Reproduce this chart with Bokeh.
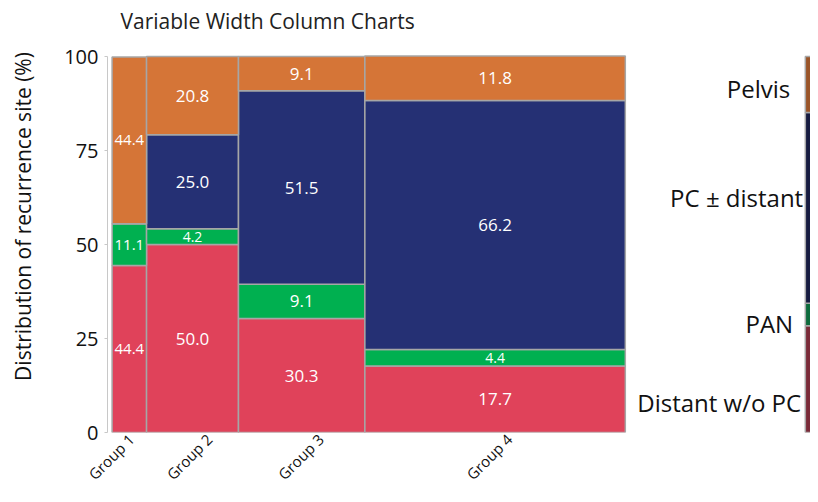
import numpy as np
from math import pi
from bokeh.plotting import figure
from bokeh.models import Range1d, FixedTicker, ColumnDataSource
from bokeh.core.properties import value
from bokeh.embed import file_html
from bokeh.resources import INLINE

# ---------------- data ----------------
groups = ["Group 1", "Group 2", "Group 3", "Group 4"]
group_n = [9, 24, 33, 68]                      # relative column widths
categories = ["Distant w/o PC", "PAN", "PC \u00b1 distant", "Pelvis"]  # bottom -> top
distant = [44.4, 50.0, 30.3, 17.7]
pan = [11.1, 4.2, 9.1, 4.4]
pc = [0.0, 25.0, 51.5, 66.2]
pelvis = [44.4, 20.8, 9.1, 11.8]
overall = [28.4, 6.0, 50.7, 14.9]              # thin cropped column at the right edge
y_ticks = [0, 25, 50, 75, 100]
title_text = "Variable Width Column Charts"

colors = ["#E0425A", "#00B050", "#253074", "#D57537"]
edge_colors = ["#7A2A38", "#0C6B3C", "#161B40", "#9A5428"]

# ---------------- layout constants ----------------
W, H = 810, 494
FL = 107                   # frame left (px)
FB = 62                    # space below the frame (px)
PXU = 3.83                 # px per column unit
PYU = 3.76                 # px per percent
X0 = -1.2
X1 = X0 + (W - FL) / PXU
Y1 = 100 + 56 / PYU        # frame reaches the top of the canvas (title inside)
THIN_X = 181.0
LABEL_X = 180.7
label_y = [8.0, 29.0, 62.5, 91.5]
label_dx = [-3, -11, -1, -14]
group_label_dx = [2, 17, 19, 14]
TITLE_X = X0 + 13 / PXU
TITLE_Y = 100 + 36 / PYU
FONT = "Open Sans"

p = figure(width=W, height=H, output_backend="svg", toolbar_location=None,
           x_range=Range1d(X0, X1), y_range=Range1d(0, Y1),
           min_border_left=FL, min_border_right=0, min_border_top=0,
           min_border_bottom=FB)
p.outline_line_color = None
p.background_fill_color = "white"
p.border_fill_color = "white"
p.grid.visible = False

# title
p.text(x=[TITLE_X], y=[TITLE_Y], text=[title_text], text_font=value(FONT),
       text_font_size="21px", text_color="#222222", text_align="left",
       text_baseline="middle")

# ---------------- bars ----------------
series = [distant, pan, pc, pelvis]
n = np.array(group_n, dtype=float)
rights = np.cumsum(n)
lefts = rights - n
centers = (lefts + rights) / 2
bottom = np.zeros(len(groups))
lab = dict(x=[], y=[], t=[], fs=[])
for k, vals in enumerate(series):
    v = np.array(vals)
    top = bottom + v
    src = ColumnDataSource(dict(left=lefts, right=rights, bottom=bottom, top=top))
    p.quad(left="left", right="right", bottom="bottom", top="top", source=src,
           fill_color=colors[k], line_color="#A6A6A6", line_width=1.5)
    for i in range(len(groups)):
        if v[i] <= 0:
            continue
        lab["x"].append(centers[i])
        lab["y"].append(bottom[i] + v[i] / 2)
        lab["t"].append(f"{v[i]:.1f}")
        lab["fs"].append("14px" if v[i] < 5 else ("15px" if i == 0 else "17px"))
    bottom = top

p.text(x="x", y="y", text="t", source=ColumnDataSource(lab), text_font_size="fs",
       text_font=value(FONT), text_color="white", text_align="center",
       text_baseline="middle")

# thin overall column (cropped at the right edge)
ov = np.array(overall)
ov_top = np.cumsum(ov)
ov_bot = ov_top - ov
p.quad(left=THIN_X, right=THIN_X + 6, bottom=ov_bot, top=ov_top,
       fill_color=edge_colors, line_color="#A6A6A6", line_width=1.5)

# category labels on the right
csrc = ColumnDataSource(dict(x=[LABEL_X] * 4, y=label_y, t=categories, dx=label_dx))
p.text(x="x", y="y", text="t", x_offset="dx", source=csrc, text_font=value(FONT),
       text_font_size="24px", text_color="#111111", text_align="right",
       text_baseline="middle")

# ---------------- axes ----------------
tick_pos = [round(float(c + d / PXU), 1) for c, d in zip(centers, group_label_dx)]
xa = p.xaxis[0]
xa.ticker = FixedTicker(ticks=tick_pos)
xa.major_label_overrides = {t: g for t, g in zip(tick_pos, groups)}
xa.major_label_orientation = pi / 4
xa.axis_line_color = None
xa.major_tick_line_color = None
xa.major_tick_out = 0
xa.major_tick_in = 0
xa.minor_tick_line_color = None
xa.major_label_text_font = FONT
xa.major_label_text_font_size = "15px"
xa.major_label_text_color = "#111111"
xa.major_label_standoff = 4

ya = p.yaxis[0]
ya.ticker = FixedTicker(ticks=y_ticks)
ya.bounds = (0, 100)
ya.axis_line_color = "#C8C8C8"
ya.major_tick_line_color = "#C8C8C8"
ya.major_tick_out = 3
ya.major_tick_in = 0
ya.minor_tick_line_color = None
ya.major_label_text_font = FONT
ya.major_label_text_font_size = "20px"
ya.major_label_text_color = "#111111"
ya.major_label_standoff = 6
ya.axis_label = "Distribution of recurrence site (%)"
ya.axis_label_text_font = FONT
ya.axis_label_text_font_size = "21px"
ya.axis_label_text_font_style = "normal"
ya.axis_label_text_color = "#111111"
ya.axis_label_standoff = 24

open("out.html", "w").write(file_html(p, INLINE))
